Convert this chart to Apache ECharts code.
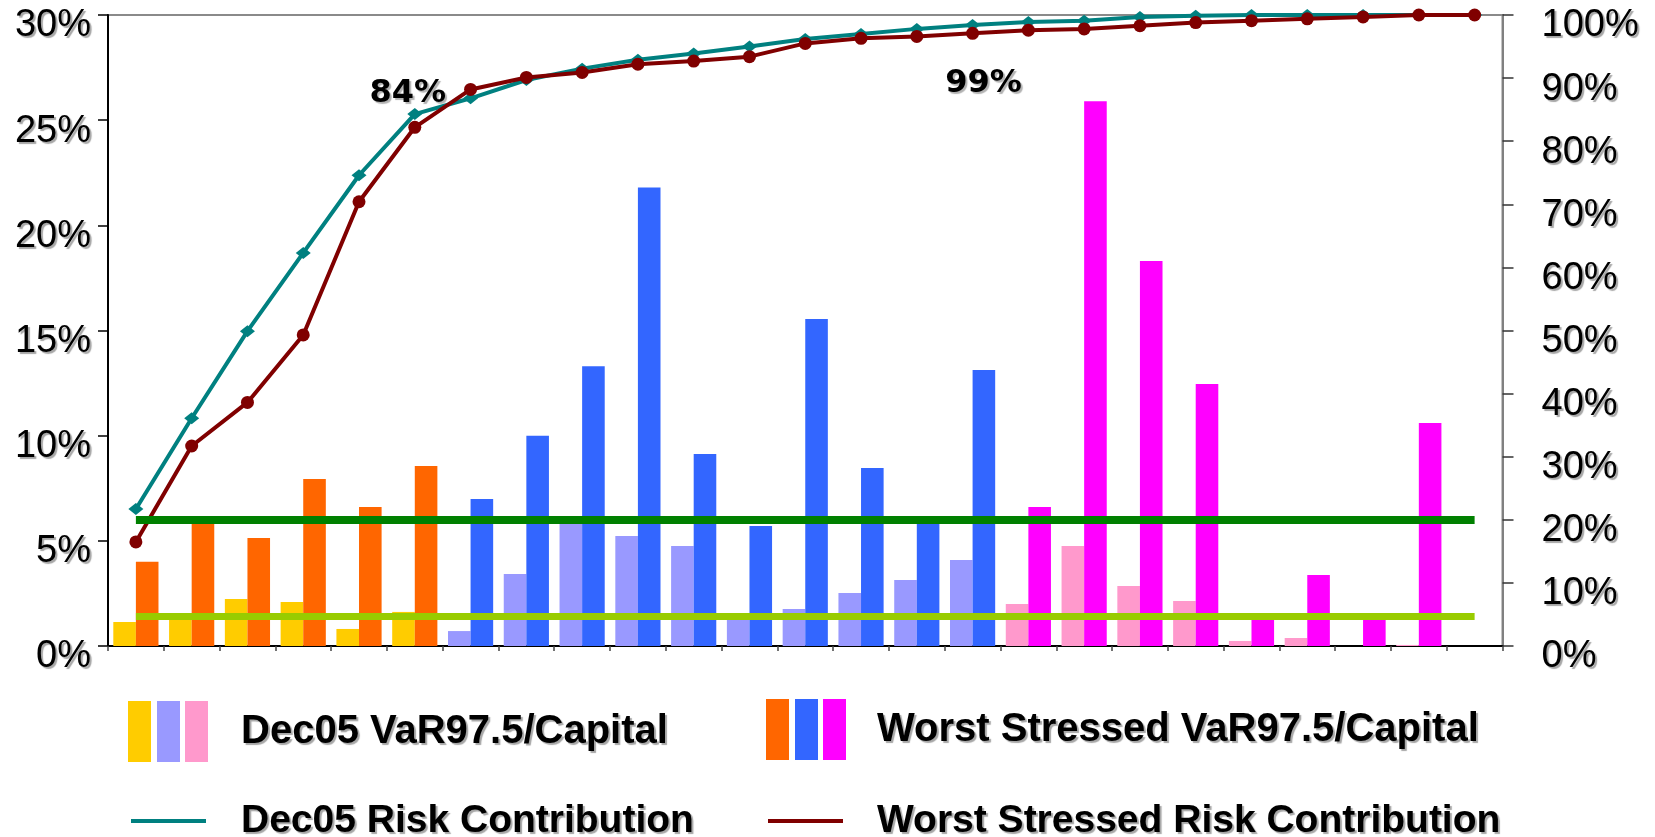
<!DOCTYPE html>
<html>
<head>
<meta charset="utf-8">
<script src="https://cdn.jsdelivr.net/npm/echarts@6/dist/echarts.min.js"></script>
<style>html,body{margin:0;padding:0;background:#fff}#chart{width:1655px;height:837px}</style>
</head>
<body>
<div id="chart"></div>
<script>
// ---- data ----
const categories = ['1','2','3','4','5','6','7','8','9','10','11','12','13','14','15','16','17','18','19','20','21','22','23','24','25'];
const categoryGroup = [0,0,0,0,0,0,1,1,1,1,1,1,1,1,1,1,2,2,2,2,2,2,2,2,2];
const dec05VaR = [1.14,1.35,2.24,2.09,0.81,1.62,0.71,3.42,5.95,5.23,4.75,1.3,1.76,2.52,3.14,4.09,2.0,4.75,2.85,2.14,0.24,0.38,0,0.05,0];
const stressedVaR = [4.0,6.0,5.14,7.94,6.61,8.56,6.99,10.0,13.3,21.8,9.13,5.7,15.55,8.46,6.05,13.12,6.61,25.9,18.3,12.46,1.35,3.38,1.35,10.6,0];
const dec05Cum = [21.7,36.1,49.9,62.3,74.6,84.3,86.8,89.7,91.5,92.9,93.9,95.0,96.2,97.0,97.8,98.4,98.9,99.1,99.7,99.9,100,100,100,100,100];
const stressedCum = [16.5,31.7,38.6,49.3,70.4,82.2,88.2,90.1,90.9,92.2,92.7,93.4,95.5,96.3,96.6,97.1,97.6,97.8,98.3,98.8,99.1,99.4,99.7,100,100];
const leftAxisTicks = {min: 0, max: 30, interval: 5};
const rightAxisTicks = {min: 0, max: 100, interval: 10};
// reference lines, in right-axis units (20% right = 6% left)
const thresholdHigh = 20.0;
const thresholdLow = 4.65;
const annotations = [
  {category: 5, value: 88.1, text: '84%'},
  {category: 15, value: 89.7, text: '99%'}
];
const seriesNames = ['Dec05 VaR97.5/Capital','Worst Stressed VaR97.5/Capital','Dec05 Risk Contribution','Worst Stressed Risk Contribution'];

// ---- styles ----
const dec05Colors = ['#FFCC00','#9999FF','#FF99CC'];
const stressedColors = ['#FF6600','#3366FF','#FF00FF'];
const tealColor = '#008080';
const redColor = '#800000';
const annotationOffsets = [[-7,4],[11,4]];

function svgUri(svg){ return 'image://data:image/svg+xml;charset=utf-8,' + encodeURIComponent(svg); }
function swatchIcon(colors, w, h){
  const xs = [0, 29, 57];
  let s = '<svg xmlns="http://www.w3.org/2000/svg" width="'+w+'" height="'+h+'" viewBox="0 0 '+w+' '+h+'" preserveAspectRatio="none">';
  colors.forEach((c,i)=>{ s += '<rect x="'+xs[i]+'" y="0" width="23" height="'+h+'" fill="'+c+'"/>'; });
  return svgUri(s + '</svg>');
}
function lineIcon(color, w, h){
  const s = '<svg xmlns="http://www.w3.org/2000/svg" width="'+w+'" height="'+h+'" viewBox="0 0 '+w+' '+h+'" preserveAspectRatio="none"><rect x="0" y="'+(h/2-2)+'" width="75" height="4" fill="'+color+'"/></svg>';
  return svgUri(s);
}

const shadow = {textShadowColor:'rgba(0,0,0,0.35)', textShadowBlur:1, textShadowOffsetX:2, textShadowOffsetY:2};
const legendText = (size) => Object.assign({fontFamily:'Liberation Sans', fontWeight:'bold', fontSize:size, color:'#000'}, shadow);
const axisLabelStyle = (margin) => Object.assign({formatter:'{value}%', fontFamily:'Liberation Sans', fontSize:38, color:'#000', margin:margin, verticalAlign:'top', lineHeight:22}, shadow);

const chart = echarts.init(document.getElementById('chart'), null, {renderer:'canvas'});
const option = {
  animation: false,
  backgroundColor: '#fff',
  grid: {left:108, right:152.5, top:15, bottom:191, show:true, borderColor:'#8a8a8a', borderWidth:2, containLabel:false, outerBoundsMode:'none'},
  legend: [
    {data:[seriesNames[0]], left:128, top:701, padding:0, itemWidth:108, itemHeight:61, icon: swatchIcon(dec05Colors,108,61), textStyle: legendText(40), selectedMode:false},
    {data:[seriesNames[1]], left:766, top:699, padding:0, itemWidth:106, itemHeight:61, icon: swatchIcon(stressedColors,106,61), textStyle: legendText(40), selectedMode:false},
    {data:[seriesNames[2]], left:131, top:801, padding:0, itemWidth:105, itemHeight:40, icon: lineIcon(tealColor,105,40), textStyle: legendText(39), selectedMode:false},
    {data:[seriesNames[3]], left:768, top:801, padding:0, itemWidth:104, itemHeight:40, icon: lineIcon(redColor,104,40), textStyle: legendText(39), selectedMode:false}
  ],
  xAxis: {
    type:'category', data: categories, boundaryGap:true,
    axisLine:{show:true, lineStyle:{color:'#000', width:2}},
    axisTick:{show:true, interval:0, length:5, lineStyle:{color:'#444', width:1.5}},
    axisLabel:{show:false}, splitLine:{show:false}
  },
  yAxis: [
    {
      type:'value', position:'left', min:leftAxisTicks.min, max:leftAxisTicks.max, interval:leftAxisTicks.interval,
      axisLine:{show:true, lineStyle:{color:'#000', width:2}},
      axisTick:{show:true, inside:false, length:10, lineStyle:{color:'#000', width:1.5}},
      splitLine:{show:false},
      axisLabel: axisLabelStyle(17)
    },
    {
      type:'value', position:'right', min:rightAxisTicks.min, max:rightAxisTicks.max, interval:rightAxisTicks.interval,
      axisLine:{show:true, lineStyle:{color:'#808080', width:2}},
      axisTick:{show:true, inside:false, length:11, lineStyle:{color:'#333', width:1.5}},
      splitLine:{show:false},
      axisLabel: axisLabelStyle(39)
    }
  ],
  series: [
    {
      name: seriesNames[0], type:'bar', yAxisIndex:0, data: dec05VaR,
      barGap:'0%', barCategoryGap:'19%',
      itemStyle:{color: p => dec05Colors[categoryGroup[p.dataIndex]]}
    },
    {
      name: seriesNames[1], type:'bar', yAxisIndex:0, data: stressedVaR,
      barGap:'0%', barCategoryGap:'19%',
      itemStyle:{color: p => stressedColors[categoryGroup[p.dataIndex]]}
    },
    {
      name: seriesNames[2], type:'line', yAxisIndex:1, data: dec05Cum, z:3,
      symbol:'diamond', symbolSize:[15,12], showAllSymbol:true,
      lineStyle:{color:tealColor, width:4}, itemStyle:{color:tealColor},
      markLine:{
        silent:true, symbol:['none','none'], label:{show:false}, emphasis:{disabled:true},
        data:[
          [{coord:[categories[0], thresholdHigh], lineStyle:{color:'#008000', width:8, type:'solid'}}, {coord:[categories[categories.length-1], thresholdHigh]}],
          [{coord:[categories[0], thresholdLow], lineStyle:{color:'#99CC00', width:7, type:'solid'}}, {coord:[categories[categories.length-1], thresholdLow]}]
        ]
      },
      markPoint:{
        symbol:'circle', symbolSize:0, silent:true,
        data: annotations.map((a,i) => ({name:a.text, coord:[categories[a.category], a.value], label:{offset:annotationOffsets[i]}})),
        label:Object.assign({show:true, position:'inside', formatter:'{b}', fontFamily:'DejaVu Sans', fontWeight:'bold', fontSize:32, color:'#000'}, {textShadowColor:'rgba(0,0,0,0.3)', textShadowBlur:1, textShadowOffsetX:2, textShadowOffsetY:2})
      }
    },
    {
      name: seriesNames[3], type:'line', yAxisIndex:1, data: stressedCum, z:4,
      symbol:'circle', symbolSize:13, showAllSymbol:true,
      lineStyle:{color:redColor, width:4}, itemStyle:{color:redColor}
    }
  ]
};
chart.setOption(option);
</script>
</body>
</html>
